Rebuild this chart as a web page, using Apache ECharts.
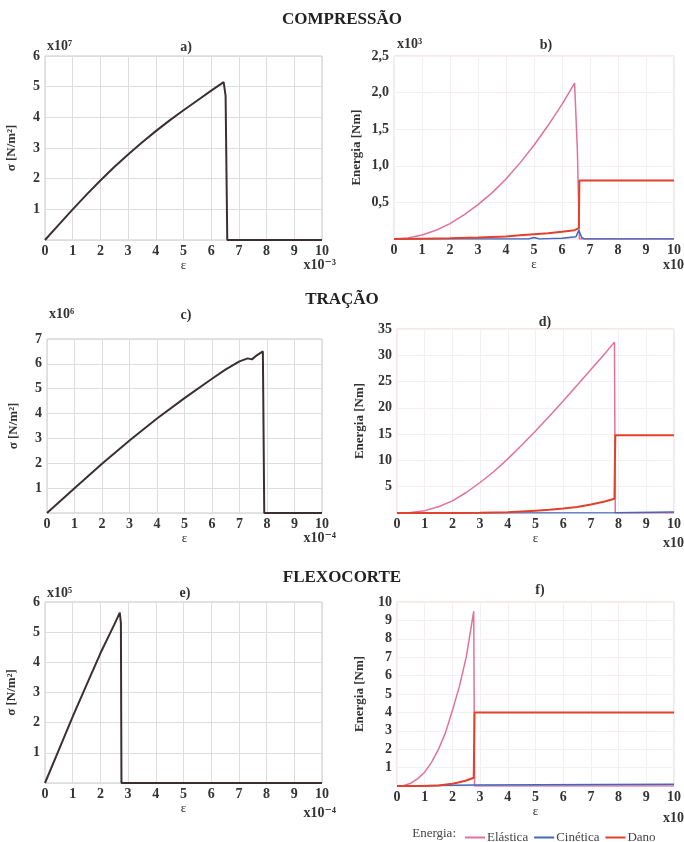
<!DOCTYPE html>
<html>
<head>
<meta charset="utf-8">
<script src="https://cdn.jsdelivr.net/npm/echarts@6/dist/echarts.min.js"></script>
<style>
  html, body { margin: 0; padding: 0; background: #fff; }
  #main { width: 684px; height: 842px; }
</style>
</head>
<body>
<div id="main"></div>
<script>
// ---- dados ----
// a) compressão, tensão x deformação
var epsA = [0, 0.5, 1, 1.5, 2, 2.5, 3, 3.5, 4, 4.5, 5, 5.5, 6, 6.45, 6.52, 6.58, 10];
var sigA = [0, 0.5, 1.0, 1.48, 1.94, 2.38, 2.79, 3.18, 3.55, 3.9, 4.23, 4.55, 4.87, 5.15, 4.7, 0, 0];

// b) compressão, energias
var epsElB = [0, 0.5, 1, 1.5, 2, 2.5, 3, 3.5, 4, 4.5, 5, 5.5, 6, 6.45, 6.55, 6.62, 10];
var elB    = [0, 0.015, 0.055, 0.12, 0.21, 0.33, 0.47, 0.63, 0.82, 1.04, 1.28, 1.55, 1.84, 2.13, 1.2, 0, 0];
var epsCiB = [0, 4.8, 5, 5.2, 6, 6.5, 6.6, 6.7, 6.8, 10];
var ciB    = [0, 0, 0.02, 0, 0.01, 0.03, 0.12, 0.02, 0, 0];
var epsDaB = [0, 1, 2, 3, 4, 4.5, 5, 5.5, 6, 6.45, 6.6, 6.62, 10];
var daB    = [0, 0.005, 0.01, 0.02, 0.035, 0.05, 0.065, 0.08, 0.1, 0.12, 0.15, 0.8, 0.8];

// c) tração, tensão x deformação
var epsC = [0, 1, 2, 3, 4, 5, 6, 6.5, 7, 7.3, 7.45, 7.6, 7.85, 7.9, 10];
var sigC = [0, 1.0, 1.98, 2.92, 3.8, 4.62, 5.4, 5.78, 6.1, 6.22, 6.18, 6.32, 6.5, 0, 0];

// d) tração, energias
var epsElD = [0, 0.5, 1, 1.5, 2, 2.5, 3, 3.5, 4, 4.5, 5, 5.5, 6, 6.5, 7, 7.5, 7.85, 7.88, 10];
var elD    = [0, 0.1, 0.45, 1.2, 2.3, 3.9, 5.8, 7.9, 10.3, 12.9, 15.6, 18.4, 21.3, 24.3, 27.3, 30.3, 32.5, 0, 0];
var epsCiD = [0, 7.85, 7.9, 10];
var ciD    = [0, 0.05, 0.2, 0.2];
var epsDaD = [0, 1, 2, 3, 4, 4.5, 5, 5.5, 6, 6.5, 7, 7.5, 7.85, 7.88, 10];
var daD    = [0, 0, 0, 0.05, 0.15, 0.3, 0.45, 0.6, 0.85, 1.15, 1.6, 2.2, 2.7, 14.8, 14.8];

// e) flexocorte, tensão x deformação
var epsE = [0, 0.5, 1, 1.5, 2, 2.5, 2.7, 2.74, 2.76, 10];
var sigE = [0, 1.1, 2.2, 3.25, 4.3, 5.25, 5.65, 5.3, 0, 0];

// f) flexocorte, energias
var epsElF = [0, 0.25, 0.5, 0.75, 1, 1.25, 1.5, 1.75, 2, 2.25, 2.5, 2.77, 2.8, 10];
var elF    = [0, 0.03, 0.15, 0.4, 0.75, 1.3, 2.0, 2.9, 4.1, 5.4, 7.0, 9.5, 0, 0];
var epsCiF = [0, 2.8, 2.85, 10];
var ciF    = [0, 0.05, 0.1, 0.1];
var epsDaF = [0, 1, 1.5, 2, 2.25, 2.5, 2.77, 2.8, 10];
var daF    = [0, 0, 0.03, 0.12, 0.2, 0.3, 0.45, 4.0, 4.0];

var yMaxes = [6, 2.5, 7, 35, 6, 10];
var yIntervals = [1, 0.5, 1, 5, 1, 1];
var sectionTitles = ['COMPRESSÃO', 'TRAÇÃO', 'FLEXOCORTE'];
var panelLabels = ['a)', 'b)', 'c)', 'd)', 'e)', 'f)'];
var yNames = ['σ [N/m²]', 'Energia [Nm]', 'σ [N/m²]', 'Energia [Nm]', 'σ [N/m²]', 'Energia [Nm]'];
var yExp = ['x10⁷', 'x10³', 'x10⁶', '', 'x10⁵', ''];
var xExp = ['x10⁻³', 'x10', 'x10⁻⁴', 'x10', 'x10⁻⁴', 'x10'];
var legendNames = ['Elástica', 'Cinética', 'Dano'];

var SERIF = "'Liberation Serif', 'DejaVu Serif', serif";
var cBlack = '#3a3030', cPink = '#e2729c', cBlue = '#3f68bf', cRed = '#e2412b';

function zip(xs, ys) {
  var out = [];
  for (var i = 0; i < xs.length; i++) out.push([xs[i], ys[i]]);
  return out;
}

var chartDom = document.getElementById('main');
var myChart = echarts.init(chartDom);

var grids = [
  { left: 45, top: 56, width: 277, height: 184 },
  { left: 394, top: 56, width: 280, height: 183 },
  { left: 47, top: 339, width: 275, height: 174 },
  { left: 397, top: 329, width: 277, height: 184 },
  { left: 45, top: 602, width: 277, height: 181 },
  { left: 397, top: 602, width: 277, height: 184 }
];
var yNameGap = [27, 31, 27, 31, 27, 31];

var xAxes = [], yAxes = [];
grids.forEach(function (g, i) {
  var energy = i % 2 === 1;
  g.show = true;
  g.borderColor = energy ? '#efcfcf' : '#c9c9c9';
  g.borderWidth = 1;
  g.containLabel = false;
  xAxes.push({
    gridIndex: i, type: 'value', min: 0, max: 10, interval: 1,
    name: 'ε', nameLocation: 'middle', nameGap: 17,
    nameTextStyle: { fontFamily: SERIF, fontSize: 13, color: '#333' },
    axisLine: { show: false }, axisTick: { show: false },
    axisLabel: { fontFamily: SERIF, fontSize: 14, color: '#333', margin: 4, fontWeight: 'bold' },
    splitLine: { show: true, lineStyle: { color: energy ? '#f5f0f0' : '#dedede', width: 1 } }
  });
  yAxes.push({
    gridIndex: i, type: 'value', min: 0, max: yMaxes[i], interval: yIntervals[i],
    name: yNames[i], nameLocation: 'middle', nameRotate: 90, nameGap: yNameGap[i],
    nameTextStyle: { fontFamily: SERIF, fontSize: 13, color: '#333', fontWeight: 'bold' },
    axisLine: { show: false }, axisTick: { show: false },
    axisLabel: {
      fontFamily: SERIF, fontSize: 14, color: '#333', margin: 5, fontWeight: 'bold',
      formatter: function (v) {
        if (v === 0) return '';
        if (i === 1) return v.toFixed(1).replace('.', ',');
        return String(v);
      }
    },
    splitLine: { show: true, lineStyle: { color: energy ? '#f5f0f0' : '#dedede', width: 1 } }
  });
});

function line(name, idx, data, color, width) {
  return {
    name: name, type: 'line', xAxisIndex: idx, yAxisIndex: idx,
    data: data, showSymbol: false, symbol: 'none', animation: false,
    lineStyle: { color: color, width: width || 1.5 }, itemStyle: { color: color }
  };
}

var series = [
  line('σa', 0, zip(epsA, sigA), cBlack, 2),
  line('Elástica', 1, zip(epsElB, elB), cPink),
  line('Cinética', 1, zip(epsCiB, ciB), cBlue),
  line('Dano', 1, zip(epsDaB, daB), cRed, 2),
  line('σc', 2, zip(epsC, sigC), cBlack, 2),
  line('Elástica', 3, zip(epsElD, elD), cPink),
  line('Cinética', 3, zip(epsCiD, ciD), cBlue),
  line('Dano', 3, zip(epsDaD, daD), cRed, 2),
  line('σe', 4, zip(epsE, sigE), cBlack, 2),
  line('Elástica', 5, zip(epsElF, elF), cPink),
  line('Cinética', 5, zip(epsCiF, ciF), cBlue),
  line('Dano', 5, zip(epsDaF, daF), cRed, 2)
];

// textos: títulos das seções, letras dos painéis, expoentes
var titles = [];
var secTops = [6, 286, 564];
sectionTitles.forEach(function (t, k) {
  titles.push({ text: t, left: 'center', top: secTops[k],
    textStyle: { fontFamily: SERIF, fontSize: 17, fontWeight: 'bold', color: '#222' } });
});

var texts = [];
var labelPos = [[186, 47], [546, 45], [186, 315], [545, 322], [185, 593], [540, 590]];
panelLabels.forEach(function (t, i) {
  texts.push({ type: 'text', x: labelPos[i][0], y: labelPos[i][1],
    style: { text: t, fontFamily: SERIF, fontSize: 14, fontWeight: 'bold', fill: '#333',
      align: 'center', verticalAlign: 'middle' } });
});
var yExpPos = [[47, 46], [397, 44], [49, 314], [0, 0], [47, 593], [0, 0]];
yExp.forEach(function (t, i) {
  if (!t) return;
  texts.push({ type: 'text', x: yExpPos[i][0], y: yExpPos[i][1],
    style: { text: t, fontFamily: SERIF, fontSize: 14, fontWeight: 'bold', fill: '#333',
      align: 'left', verticalAlign: 'middle' } });
});
var xExpPos = [[336, 265], [684, 265], [336, 538], [684, 543], [336, 813], [684, 818]];
xExp.forEach(function (t, i) {
  texts.push({ type: 'text', x: xExpPos[i][0], y: xExpPos[i][1],
    style: { text: t, fontFamily: SERIF, fontSize: 14, fontWeight: 'bold', fill: '#333',
      align: 'right', verticalAlign: 'middle' } });
});
texts.push({ type: 'text', x: 456, y: 834,
  style: { text: 'Energia:', fontFamily: SERIF, fontSize: 13, fill: '#444',
    align: 'right', verticalAlign: 'middle' } });

var option = {
  backgroundColor: '#fff',
  animation: false,
  title: titles,
  grid: grids,
  xAxis: xAxes,
  yAxis: yAxes,
  legend: {
    data: legendNames, left: 460, top: 826, itemGap: 6,
    icon: 'rect', itemWidth: 20, itemHeight: 2,
    textStyle: { fontFamily: SERIF, fontSize: 13, color: '#444', padding: [0, 0, 0, -3] }
  },
  graphic: texts,
  series: series
};

myChart.setOption(option);
</script>
</body>
</html>
